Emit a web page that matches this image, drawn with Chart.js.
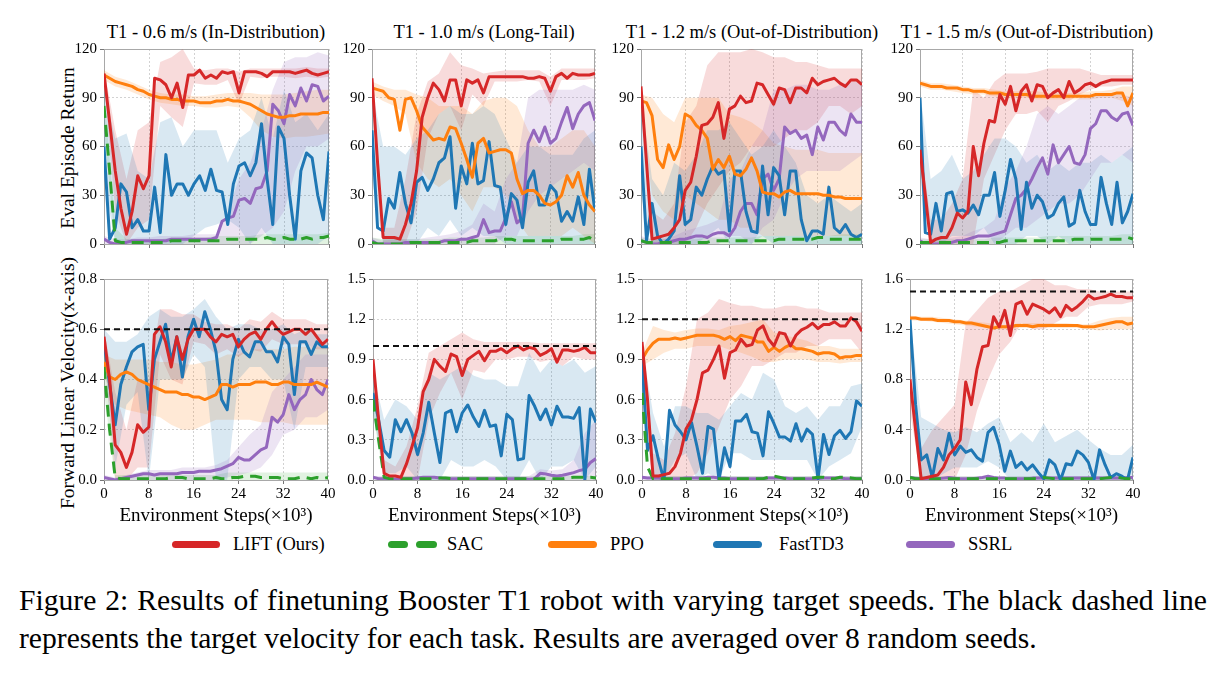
<!DOCTYPE html>
<html>
<head>
<meta charset="utf-8">
<script src="https://cdn.jsdelivr.net/npm/chart.js@4.4.1/dist/chart.umd.min.js"></script>
<style>
  body { margin: 0; background: #fff; width: 1219px; height: 676px; overflow: hidden; position: relative;
         font-family: 'Liberation Serif', 'Times New Roman', serif; color: #000; }
  canvas.chart { position: absolute; }
  .ptitle { position: absolute; top: 22px; font-size: 18.5px; line-height: 20px; white-space: nowrap; transform: translateX(-50%); }
  .ytitle { position: absolute; font-size: 19.5px; line-height: 20px; white-space: nowrap; transform: translate(-50%, -50%) rotate(-90deg); }
  .sw { position: absolute; top: 541px; height: 7px; border-radius: 4px; }
  .lt { position: absolute; top: 534px; font-size: 18.5px; line-height: 20px; white-space: nowrap; }
  .cap { position: absolute; left: 19px; width: 1188px; font-size: 29.6px; line-height: 38px; }
</style>
</head>
<body>

<div class="ptitle" style="left:216px">T1 - 0.6 m/s (In-Distribution)</div>
<div class="ptitle" style="left:484px">T1 - 1.0 m/s (Long-Tail)</div>
<div class="ptitle" style="left:752px">T1 - 1.2 m/s (Out-of-Distribution)</div>
<div class="ptitle" style="left:1027px">T1 - 1.5 m/s (Out-of-Distribution)</div>

<div class="ytitle" style="left:68px; top:148px">Eval Episode Return</div>
<div class="ytitle" style="left:68px; top:383px">Forward Linear Velocity(x-axis)</div>

<div class="sw" style="left:172px; width:48px; background:#d62728"></div>
<div class="lt" style="left:233px">LIFT (Ours)</div>
<div class="sw" style="left:388px; width:20px; background:#2ca02c"></div>
<div class="sw" style="left:416px; width:21px; background:#2ca02c"></div>
<div class="lt" style="left:447px">SAC</div>
<div class="sw" style="left:548px; width:49px; background:#ff7f0e"></div>
<div class="lt" style="left:610px">PPO</div>
<div class="sw" style="left:713px; width:49px; background:#1f77b4"></div>
<div class="lt" style="left:779px">FastTD3</div>
<div class="sw" style="left:906px; width:49px; background:#9467bd"></div>
<div class="lt" style="left:968px">SSRL</div>

<div class="cap" style="top:581px; text-align:justify; text-align-last:justify">Figure 2: Results of finetuning Booster T1 robot with varying target speeds. The black dashed line</div>
<div class="cap" style="top:619px">represents the target velocity for each task. Results are averaged over 8 random seeds.</div>

<script>
/* ── data: x positions (×10^3 env steps) ─────────────────── */
const steps = [0,1,2,3,4,5,6,7,8,9,10,11,12,13,14,15,16,17,18,19,20,21,22,23,24,25,26,27,28,29,30,31,32,33,34,35,36,37,38,39,40];
const bandSteps = [0,2,4,6,8,10,12,14,16,18,20,22,24,26,28,30,32,34,36,38,40];

const xTicks = [0, 8, 16, 24, 32, 40];
const yTicksReturn = [0, 30, 60, 90, 120];
const yTicksV06 = [0.0, 0.2, 0.4, 0.6, 0.8];
const yTicksV10 = [0.0, 0.3, 0.6, 0.9, 1.2, 1.5];
const yTicksV12 = [0.0, 0.3, 0.6, 0.9, 1.2, 1.5];
const yTicksV15 = [0.0, 0.4, 0.8, 1.2, 1.6];
const targetSpeeds = [0.6, 1.0, 1.2, 1.5];

/* ── eval return, 0.6 m/s ── */
const liftR1 = [105,75,45,22,6,20,42,34,42,102, 101,98,90,99,84,104,104,107,102,104, 102,106,105,106,93,106,106,106,105,103, 106,106,106,106,105,106,107,105,104,105, 106];
const liftR1Lo = [100,20,0,10,15,85,78,72,99,98, 98,101,86,103,102,103,103,102,103,102, 103];
const liftR1Hi = [108,70,40,70,75,112,115,120,108,107, 108,108,106,108,108,108,108,108,109,108, 108];
const ppoR1 = [104,102,100,99,98,97,95,94,92,91, 90,90,89,89,88,88,88,87,87,87, 88,88,89,88,88,87,86,84,82,80, 79,78,78,79,79,80,80,80,80,81, 81];
const ppoR1Lo = [101,97,95,92,89,87,86,85,85,84, 84,85,84,78,70,66,65,66,66,67, 68];
const ppoR1Hi = [107,103,101,98,95,93,92,92,91,91, 92,93,93,93,92,92,92,93,94,95, 95];
const td3R1 = [60,3,10,37,32,10,15,8,8,35, 7,55,30,37,37,30,37,42,33,46, 33,32,12,37,48,50,42,50,74,40, 12,72,65,30,3,45,56,53,30,15, 57];
const td3R1Lo = [40,0,0,0,0,0,0,0,5,10, 12,15,10,0,10,0,0,0,0,0, 5];
const td3R1Hi = [95,65,68,45,40,75,78,60,70,70, 70,50,65,70,90,65,95,75,80,70, 80];
const sacR1 = [85,45,2,1,1,1,1,1,1,1, 1,1,2,2,2,2,2,2,2,2, 2,2,3,3,3,3,3,3,3,4, 3,3,4,3,3,3,4,3,4,4, 5];
const sacR1Lo = [70,0,0,0,0,0,0,0,0,0, 0,0,0,0,0,0,0,0,0,0, 0];
const sacR1Hi = [95,10,3,3,3,3,4,4,4,4, 5,5,5,5,6,6,6,6,6,6, 7];
const ssrlR1 = [3,1,0,1,1,2,2,2,2,2, 2,2,3,3,3,3,3,3,3,3, 4,14,16,17,27,28,25,34,35,45, 86,82,74,92,85,96,88,98,97,88, 91];
const ssrlR1Lo = [0,0,0,0,0,0,0,0,0,0, 0,0,0,0,5,10,20,45,60,60, 65];
const ssrlR1Hi = [5,3,3,4,4,5,5,5,6,6, 6,20,40,50,70,95,112,115,115,118, 116];

/* ── eval return, 1.0 m/s ── */
const liftR2 = [102,50,4,4,4,3,12,25,45,78, 90,99,95,88,101,101,85,101,99,101, 93,103,103,103,103,103,103,103,102,102, 103,102,94,103,105,102,105,104,104,104, 105];
const liftR2Lo = [100,0,0,0,20,65,80,85,70,92, 85,100,100,100,101,100,85,101,101,101, 102];
const liftR2Hi = [104,10,10,40,80,100,105,118,110,108, 105,106,107,107,107,107,103,108,108,108, 108];
const ppoR2 = [96,95,94,90,89,70,89,90,82,72, 68,64,65,64,72,71,62,52,41,62, 65,56,57,58,58,56,40,31,33,33, 30,25,24,26,30,42,35,44,30,24, 20];
const ppoR2Lo = [92,88,85,80,50,40,35,40,30,20, 35,35,30,15,5,5,5,5,10,5, 0];
const ppoR2Hi = [100,97,95,95,92,90,85,85,85,80, 88,90,90,85,70,60,60,65,70,70, 60];
const td3R2 = [70,10,8,28,22,44,25,13,38,41, 33,40,50,53,66,22,48,37,62,37, 39,63,36,35,12,31,27,10,38,45, 24,24,36,32,14,20,14,29,12,46, 20];
const td3R2Lo = [40,0,0,0,0,10,5,15,5,10, 5,5,0,0,0,0,0,0,0,0, 0];
const td3R2Hi = [95,60,60,55,65,70,80,85,80,80, 85,80,65,50,60,60,55,55,55,65, 70];
const sacR2 = [1,0,0,0,0,0,0,1,1,1, 1,1,1,1,1,1,1,1,2,2, 2,2,2,3,3,3,2,2,2,2, 2,2,2,2,3,3,3,3,3,4, 2];
const sacR2Lo = [0,0,0,0,0,0,0,0,0,0, 0,0,0,0,0,0,0,0,0,0, 0];
const sacR2Hi = [4,3,3,3,3,3,3,4,4,4, 4,5,5,5,5,5,5,5,5,6, 6];
const ssrlR2 = [2,0,0,0,0,0,1,1,1,1, 1,1,1,2,2,2,3,3,4,5, 15,7,8,8,16,26,13,16,62,70, 63,72,62,65,75,84,71,80,85,87, 76];
const ssrlR2Lo = [0,0,0,0,0,0,0,0,0,0, 0,0,5,5,20,30,35,40,45,50, 45];
const ssrlR2Hi = [4,2,3,3,3,4,5,6,8,12, 25,20,40,50,90,95,95,95,95,98, 95];

/* ── eval return, 1.2 m/s ── */
const liftR3 = [97,50,3,4,5,6,10,15,33,38, 54,73,74,78,87,65,83,85,91,87, 88,99,98,92,86,96,95,87,96,96, 93,102,98,100,101,102,99,97,101,101, 98];
const liftR3Lo = [92,0,0,0,0,10,25,35,45,50, 60,60,60,65,70,70,75,85,85,80, 85];
const liftR3Hi = [100,20,15,25,75,85,110,118,118,118, 120,118,115,115,112,112,110,108,108,108, 108];
const ppoR3 = [88,87,79,52,47,61,52,60,80,78, 73,70,65,46,52,47,54,43,42,46, 53,45,32,31,31,29,32,33,31,31, 31,31,31,30,30,29,29,28,28,28, 28];
const ppoR3Lo = [82,30,20,15,30,25,20,15,15,10, 10,5,5,5,5,5,5,5,5,5, 5];
const ppoR3Hi = [92,90,80,75,90,90,90,90,80,78, 75,70,62,60,58,58,58,56,56,56, 56];
const td3R3 = [60,2,25,5,0,3,8,42,12,15, 35,30,40,48,43,45,8,45,45,20, 8,7,48,18,47,42,18,45,45,15, 2,8,8,6,35,10,7,12,6,4, 6];
const td3R3Lo = [30,0,0,0,0,0,5,10,0,0, 0,5,0,0,0,0,0,0,0,0, 0];
const td3R3Hi = [90,40,30,50,45,55,70,70,75,65, 55,60,70,60,50,30,25,30,25,20, 25];
const sacR3 = [2,1,1,1,1,1,1,1,1,1, 1,1,1,2,2,2,2,2,2,2, 2,2,2,2,2,3,3,3,3,3, 3,3,4,4,3,3,3,3,3,3, 3];
const sacR3Lo = [0,0,0,0,0,0,0,0,0,0, 0,0,0,0,0,0,0,0,0,0, 0];
const sacR3Hi = [4,3,3,3,3,3,4,4,4,4, 4,5,5,5,5,5,5,5,6,6, 6];
const ssrlR3 = [2,1,0,0,1,1,2,3,3,4, 5,5,4,6,7,7,5,10,20,25, 25,18,40,43,33,40,72,68,70,65, 67,55,72,64,75,75,70,67,80,75, 75];
const ssrlR3Lo = [0,0,0,0,0,0,0,0,5,5, 0,10,15,30,40,45,45,45,45,50, 55];
const ssrlR3Hi = [5,3,3,5,8,10,12,15,40,45, 60,70,95,95,98,98,95,95,98,100, 100];

/* ── eval return, 1.5 m/s ── */
const liftR4 = [58,30,1,3,4,4,10,19,16,20, 60,42,62,76,75,92,86,97,82,94, 98,88,98,97,90,93,95,90,100,93, 95,98,99,97,99,100,101,101,101,101, 101];
const liftR4Lo = [50,0,0,0,0,0,40,55,70,80, 80,82,75,85,88,92,95,97,97,98, 98];
const liftR4Hi = [65,15,15,25,40,95,90,100,105,105, 105,106,108,108,108,108,106,104,104,104, 104];
const ppoR4 = [99,98,97,97,97,96,96,96,95,95, 94,94,94,93,93,93,92,92,92,92, 92,91,91,91,91,91,91,91,91,91, 91,91,91,92,92,92,92,93,93,85, 93];
const ppoR4Lo = [97,95,95,94,93,92,92,91,90,90, 90,89,89,89,89,89,89,90,90,88, 85];
const ppoR4Hi = [101,99,99,98,97,96,96,95,94,94, 94,94,93,93,93,93,94,94,95,97, 97];
const td3R4 = [90,7,6,25,8,31,32,20,21,19, 24,18,30,30,44,17,33,52,40,9, 38,22,30,26,16,18,25,29,11,13, 33,20,12,12,41,25,12,38,13,20, 31];
const td3R4Lo = [40,0,0,5,5,5,10,0,0,0, 5,5,0,5,0,0,0,0,0,0, 0];
const td3R4Hi = [95,40,45,55,40,45,55,65,65,60, 50,55,45,50,45,50,50,55,50,55, 60];
const sacR4 = [1,1,1,1,1,1,1,1,1,1, 1,1,1,1,1,1,2,2,2,2, 2,2,2,2,2,2,2,2,2,3, 3,3,3,3,3,3,3,3,3,4, 3];
const sacR4Lo = [0,0,0,0,0,0,0,0,0,0, 0,0,0,0,0,0,0,0,0,0, 0];
const sacR4Hi = [3,3,3,3,3,3,3,4,4,4, 4,4,5,5,5,5,5,5,5,6, 6];
const ssrlR4 = [2,0,0,0,0,1,1,2,2,3, 4,5,5,5,6,7,8,18,28,30, 34,40,47,53,43,61,50,55,60,50, 49,55,71,74,82,82,78,76,80,81, 73];
const ssrlR4Lo = [0,0,0,0,0,0,0,0,5,10, 10,15,20,25,25,30,40,50,50,55, 50];
const ssrlR4Hi = [4,3,3,4,5,8,10,15,35,45, 60,80,85,80,85,90,90,92,92,92, 90];

/* ── forward velocity, 0.6 m/s ── */
const liftV1 = [.57,.40,.14,.11,.05,.11,.22,.19,.21,.58, .61,.55,.45,.57,.48,.56,.60,.60,.60,.57, .55,.58,.57,.58,.53,.56,.58,.59,.56,.60, .63,.60,.58,.59,.60,.60,.58,.60,.57,.54, .56];
const liftV1Lo = [.52,0,0,.05,.05,.50,.40,.38,.55,.54, .50,.52,.49,.52,.51,.56,.54,.54,.54,.52, .52];
const liftV1Hi = [.60,.35,.20,.40,.40,.68,.68,.66,.66,.63, .62,.62,.60,.64,.63,.67,.64,.64,.64,.62, .62];
const ppoV1 = [.47,.41,.40,.42,.43,.42,.40,.39,.38,.37, .36,.35,.35,.35,.34,.34,.33,.33,.32,.33, .34,.38,.38,.37,.38,.38,.38,.39,.39,.39, .38,.38,.39,.39,.38,.38,.38,.38,.39,.38, .37];
const ppoV1Lo = [.42,.30,.28,.27,.26,.25,.22,.20,.20,.22, .24,.24,.24,.24,.23,.23,.23,.22,.22,.22, .22];
const ppoV1Hi = [.50,.48,.48,.48,.48,.47,.47,.46,.46,.47, .48,.50,.50,.52,.52,.52,.52,.53,.53,.53, .53];
const td3V1 = [.55,.38,.22,.38,.45,.51,.53,.54,.28,.48, .55,.62,.47,.57,.41,.57,.64,.57,.67,.60, .51,.32,.28,.48,.56,.51,.49,.55,.55,.51, .51,.47,.57,.54,.34,.55,.55,.50,.55,.53, .53];
const td3V1Lo = [.50,.05,.30,.35,0,.40,.40,.40,.50,.45, 0,0,.40,.45,.45,.40,.40,.20,.45,.45, .45];
const td3V1Hi = [.60,.55,.55,.58,.65,.68,.65,.65,.68,.72, .65,.60,.62,.62,.60,.60,.62,.58,.60,.58, .58];
const sacV1 = [.45,.20,.01,.005,.005,.005,.005,.005,.005,.005, .005,.005,.01,.01,.01,.005,.005,.005,.005,.005, .01,.005,.005,.01,.01,.015,.015,.015,.01,.01, .01,.01,.005,.005,.005,.01,.01,.005,.01,.005, .01];
const sacV1Lo = [.35,0,0,0,0,0,0,0,0,0, 0,0,0,0,0,0,0,0,0,0, 0];
const sacV1Hi = [.55,.02,.02,.02,.02,.02,.02,.02,.02,.02, .02,.03,.03,.03,.03,.03,.03,.03,.03,.03, .03];
const ssrlV1 = [.01,.005,0,.005,.01,.015,.02,.025,.025,.02, .025,.025,.025,.025,.03,.03,.03,.035,.035,.035, .04,.045,.055,.065,.09,.08,.08,.10,.12,.13, .25,.23,.26,.34,.28,.32,.34,.40,.36,.34, .40];
const ssrlV1Lo = [0,0,0,0,0,0,0,0,0,0, 0,.01,.02,.03,.05,.10,.18,.20,.25,.25, .28];
const ssrlV1Hi = [.02,.01,.02,.03,.04,.04,.04,.05,.05,.05, .06,.08,.13,.18,.22,.35,.40,.45,.50,.50, .50];

/* ── forward velocity, 1.0 m/s (no PPO curve) ── */
const liftV2 = [.90,.45,.05,.03,.03,.02,.12,.25,.39,.66, .75,.90,.85,.81,.94,.92,.78,.90,.93,.96, .89,.96,.96,.98,.95,.98,1.00,.97,.99,.98, .93,.95,.98,.88,.97,.97,.96,.97,.99,.95, .95];
const liftV2Lo = [.85,0,0,0,0,.45,.65,.80,.60,.82, .80,.90,.90,.92,.92,.88,.90,.85,.92,.90, .90];
const liftV2Hi = [.95,.15,.10,.25,.55,.95,1.00,1.05,1.10,1.05, 1.03,1.03,1.03,1.03,1.03,1.02,1.02,1.02,1.02,1.02, 1.02];
const td3V2 = [.65,.45,.22,.17,.45,.36,.45,.35,.19,.35, .58,.35,.13,.50,.52,.36,.50,.56,.47,.40, .52,.40,.41,.18,.49,.45,.15,.16,.63,.55, .45,.53,.41,.55,.47,.47,.46,.54,0,.53, .43];
const td3V2Lo = [.50,.05,.05,.10,0,0,0,.15,.10,.10, .15,.10,0,0,.15,0,.10,.10,.15,0, .10];
const td3V2Hi = [.80,.45,.60,.55,.45,.80,.75,.80,.85,.78, .75,.75,.70,.70,.95,.80,.90,.85,.90,.80, .85];
const sacV2 = [.60,.30,.02,.01,.01,.01,.01,.01,.01,.01, .01,.01,.015,.015,.01,.01,.01,.01,.01,.01, .01,.01,.01,.01,.01,.01,.01,.01,.01,.01, .01,.01,.01,.01,.01,.015,.02,.02,.02,.02, .015];
const sacV2Lo = [.50,0,0,0,0,0,0,0,0,0, 0,0,0,0,0,0,0,0,0,0, 0];
const sacV2Hi = [.70,.03,.03,.03,.03,.03,.03,.03,.03,.03, .03,.03,.03,.03,.03,.03,.03,.03,.03,.03, .03];
const ssrlV2 = [.02,.01,.01,.005,.005,.005,.01,.01,.015,.02, .02,.02,.015,.01,.01,.01,.01,.01,.01,.01, .01,.01,.01,.005,.01,.01,.01,.01,.005,.01, .05,.045,.035,.03,.035,.045,.055,.07,.08,.13, .16];
const ssrlV2Lo = [0,0,0,0,0,0,0,0,0,0, 0,0,0,0,0,0,0,0,0,0, 0];
const ssrlV2Hi = [.03,.03,.03,.03,.03,.03,.03,.03,.03,.03, .03,.03,.03,.03,.03,.08,.07,.08,.15,.35, .45];

/* ── forward velocity, 1.2 m/s ── */
const liftV3 = [1.03,.60,.03,.03,.04,.05,.10,.20,.38,.45, .60,.80,.82,.90,1.00,.76,.95,.97,1.05,1.00, 1.01,1.12,1.15,1.05,1.00,1.10,1.09,1.00,1.08,1.12, 1.14,1.17,1.13,1.16,1.16,1.18,1.15,1.15,1.21,1.18, 1.11];
const liftV3Lo = [1.00,0,0,0,0,.05,.20,.40,.60,.70, .85,.85,.90,.95,.95,1.00,1.00,1.05,1.05,1.05, .95];
const liftV3Hi = [1.06,.20,.15,.35,.70,1.20,1.25,1.35,1.32,1.30, 1.30,1.28,1.28,1.30,1.30,1.28,1.28,1.25,1.25,1.25, 1.25];
const ppoV3 = [.90,.97,1.02,1.05,1.05,1.05,1.06,1.05,1.06,1.07, 1.08,1.08,1.08,1.08,1.07,1.05,1.07,1.04,1.08,1.07, 1.06,1.03,1.03,.96,.99,.96,.99,1.01,.98,.98, .97,.96,.94,.95,.95,.94,.91,.92,.92,.93, .93];
const ppoV3Lo = [.85,.90,.95,.98,.98,1.00,1.00,1.00,.97,.95, .92,.88,.88,.90,.90,.90,.88,.88,.87,.88, .88];
const ppoV3Hi = [.95,1.15,1.12,1.10,1.12,1.13,1.13,1.12,1.15,1.16, 1.18,1.20,1.10,1.08,1.06,1.04,1.00,1.00,.98,.98, .98];
const td3V3 = [.90,.22,.33,.15,0,.52,.41,.36,.30,.43, .25,.05,.40,.38,0,.24,.10,.44,.44,.49, .36,.35,.18,.51,.42,.32,.32,.29,.42,.29, .38,.34,.01,.34,.19,.33,.37,.31,.36,.59, .55];
const td3V3Lo = [.60,0,0,.15,.20,0,.05,0,.20,.20, .15,.15,.15,.15,.15,.15,0,.10,.15,.20, .40];
const td3V3Hi = [1.00,.50,.25,.55,.55,.50,.50,.45,.55,.65, .60,.80,.75,.55,.50,.55,.45,.55,.55,.70, .72];
const sacV3 = [.65,.10,.01,.01,.01,.01,.01,.01,.01,.01, .01,.01,.01,.01,.01,.01,.01,.01,.01,.01, .01,.01,.01,.02,.03,.02,.01,.01,.01,.01, .01,.015,.02,.02,.01,.01,.02,.02,.015,.01, .01];
const sacV3Lo = [.55,0,0,0,0,0,0,0,0,0, 0,0,0,0,0,0,0,0,0,0, 0];
const sacV3Hi = [.75,.03,.03,.03,.03,.03,.03,.03,.03,.03, .03,.03,.03,.03,.03,.03,.03,.03,.03,.03, .03];
const ssrlV3 = [.02,.015,.015,.015,.01,.01,.01,.01,.015,.015, .015,.015,.02,.02,.015,.015,.01,.01,.01,.01, .01,.01,.01,.015,.015,.015,.015,.01,.01,.01, .01,.01,.01,.015,.015,.015,.015,.01,.01,.01, .01];
const ssrlV3Lo = [0,0,0,0,0,0,0,0,0,0, 0,0,0,0,0,0,0,0,0,0, 0];
const ssrlV3Hi = [.03,.03,.03,.03,.03,.03,.03,.03,.03,.03, .03,.03,.03,.03,.03,.03,.03,.03,.03,.03, .03];

/* ── forward velocity, 1.5 m/s ── */
const liftV4 = [.80,.40,.01,.02,.03,.04,.10,.20,.25,.32, .78,.60,.88,1.06,1.07,1.30,1.22,1.35,1.15,1.40, 1.42,1.32,1.40,1.38,1.36,1.33,1.37,1.30,1.39,1.35, 1.38,1.42,1.47,1.44,1.45,1.46,1.48,1.46,1.46,1.45, 1.45];
const liftV4Lo = [.55,0,0,0,0,.20,.55,.80,1.00,1.10, 1.25,1.20,1.20,1.25,1.30,1.30,1.38,1.40,1.40,1.40, 1.42];
const liftV4Hi = [.95,.25,.40,.50,.60,1.25,1.35,1.45,1.50,1.50, 1.55,1.60,1.60,1.55,1.55,1.52,1.52,1.50,1.50,1.50, 1.50];
const ppoV4 = [1.29,1.29,1.28,1.28,1.28,1.27,1.27,1.27,1.26,1.26, 1.25,1.25,1.24,1.23,1.22,1.21,1.22,1.22,1.22,1.23, 1.23,1.23,1.22,1.23,1.23,1.23,1.23,1.23,1.23,1.23, 1.23,1.22,1.22,1.22,1.23,1.24,1.25,1.26,1.26,1.24, 1.25];
const ppoV4Lo = [1.27,1.27,1.26,1.25,1.24,1.23,1.22,1.21,1.20,1.20, 1.21,1.21,1.21,1.21,1.21,1.21,1.20,1.19,1.20,1.20, 1.20];
const ppoV4Hi = [1.31,1.30,1.30,1.29,1.28,1.27,1.26,1.25,1.23,1.24, 1.25,1.25,1.25,1.25,1.25,1.24,1.24,1.27,1.29,1.30, 1.30];
const td3V4 = [1.28,.60,.16,.20,.02,.25,.16,.37,.20,.27, .22,.24,.18,.15,.38,.42,.28,.07,.23,.10, .14,.08,.12,.06,.01,.16,.12,0,.13,.12, .23,.20,.14,0,.24,.12,.02,.05,.03,0, .18];
const td3V4Lo = [1.20,0,0,.05,.10,.10,.10,.15,.10,0, 0,0,0,0,0,0,0,0,0,0, 0];
const td3V4Hi = [1.30,.50,.45,.40,.38,.42,.38,.45,.50,.30, .38,.30,.45,.30,.35,.40,.32,.25,.20,.20, .28];
const sacV4 = [.02,.01,.01,.01,.01,.01,.01,.01,.01,.01, .01,.01,.01,.01,.01,.01,.01,.01,.01,.01, .01,.01,.01,.015,.02,.015,.01,.01,.01,.01, .01,.01,.01,.01,.01,.015,.02,.025,.015,.01, .01];
const sacV4Lo = [0,0,0,0,0,0,0,0,0,0, 0,0,0,0,0,0,0,0,0,0, 0];
const sacV4Hi = [.03,.03,.03,.03,.03,.03,.03,.03,.03,.03, .03,.03,.03,.03,.03,.03,.03,.03,.03,.03, .03];
const ssrlV4 = [.02,.015,.01,.01,.01,.01,.015,.02,.015,.01, .01,.01,.015,.02,.03,.02,.015,.015,.01,.01, .01,.01,.015,.015,.015,.015,.015,.015,.015,.015, .015,.015,.015,.015,.015,.015,.015,.015,.015,.02, .02];
const ssrlV4Lo = [0,0,0,0,0,0,0,0,0,0, 0,0,0,0,0,0,0,0,0,0, 0];
const ssrlV4Hi = [.03,.03,.03,.03,.03,.03,.03,.03,.03,.03, .03,.03,.03,.03,.03,.03,.03,.03,.03,.03, .03];

/* ── styling ─────────────────────────────────────────────── */
const FONT = "'Liberation Serif', 'Times New Roman', serif";
Chart.defaults.font.family = FONT;
Chart.defaults.color = '#000';

// z: lower = drawn on top
const STYLE = {
  lift: { color: '#d62728', band: 'rgba(214,39,40,0.17)',  z: 1 },
  sac:  { color: '#2ca02c', band: 'rgba(44,160,44,0.14)',  z: 2, dash: [12, 7] },
  ppo:  { color: '#ff7f0e', band: 'rgba(255,127,14,0.17)', z: 3 },
  td3:  { color: '#1f77b4', band: 'rgba(31,119,180,0.17)', z: 4 },
  ssrl: { color: '#9467bd', band: 'rgba(148,103,189,0.18)', z: 5 }
};
const DRAW_ORDER = ['ssrl', 'td3', 'ppo', 'sac', 'lift'];

const YW = 40, PAD = 12;

const PANELS = [
  { rect: [104, 49, 329, 250], yMax: 120, yTicks: yTicksReturn, digits: 0, bottom: false, target: null,
    series: { lift: [liftR1, liftR1Lo, liftR1Hi], sac: [sacR1, sacR1Lo, sacR1Hi], ppo: [ppoR1, ppoR1Lo, ppoR1Hi], td3: [td3R1, td3R1Lo, td3R1Hi], ssrl: [ssrlR1, ssrlR1Lo, ssrlR1Hi] } },
  { rect: [372, 49, 595, 250], yMax: 120, yTicks: yTicksReturn, digits: 0, bottom: false, target: null,
    series: { lift: [liftR2, liftR2Lo, liftR2Hi], sac: [sacR2, sacR2Lo, sacR2Hi], ppo: [ppoR2, ppoR2Lo, ppoR2Hi], td3: [td3R2, td3R2Lo, td3R2Hi], ssrl: [ssrlR2, ssrlR2Lo, ssrlR2Hi] } },
  { rect: [641, 49, 862, 250], yMax: 120, yTicks: yTicksReturn, digits: 0, bottom: false, target: null,
    series: { lift: [liftR3, liftR3Lo, liftR3Hi], sac: [sacR3, sacR3Lo, sacR3Hi], ppo: [ppoR3, ppoR3Lo, ppoR3Hi], td3: [td3R3, td3R3Lo, td3R3Hi], ssrl: [ssrlR3, ssrlR3Lo, ssrlR3Hi] } },
  { rect: [920, 49, 1133, 250], yMax: 120, yTicks: yTicksReturn, digits: 0, bottom: false, target: null,
    series: { lift: [liftR4, liftR4Lo, liftR4Hi], sac: [sacR4, sacR4Lo, sacR4Hi], ppo: [ppoR4, ppoR4Lo, ppoR4Hi], td3: [td3R4, td3R4Lo, td3R4Hi], ssrl: [ssrlR4, ssrlR4Lo, ssrlR4Hi] } },
  { rect: [104, 279, 328, 480], yMax: 0.8, yTicks: yTicksV06, digits: 1, bottom: true, target: targetSpeeds[0],
    series: { lift: [liftV1, liftV1Lo, liftV1Hi], sac: [sacV1, sacV1Lo, sacV1Hi], ppo: [ppoV1, ppoV1Lo, ppoV1Hi], td3: [td3V1, td3V1Lo, td3V1Hi], ssrl: [ssrlV1, ssrlV1Lo, ssrlV1Hi] } },
  { rect: [373, 279, 596, 480], yMax: 1.5, yTicks: yTicksV10, digits: 1, bottom: true, target: targetSpeeds[1],
    series: { lift: [liftV2, liftV2Lo, liftV2Hi], sac: [sacV2, sacV2Lo, sacV2Hi], td3: [td3V2, td3V2Lo, td3V2Hi], ssrl: [ssrlV2, ssrlV2Lo, ssrlV2Hi] } },
  { rect: [642, 279, 862, 480], yMax: 1.5, yTicks: yTicksV12, digits: 1, bottom: true, target: targetSpeeds[2],
    series: { lift: [liftV3, liftV3Lo, liftV3Hi], sac: [sacV3, sacV3Lo, sacV3Hi], ppo: [ppoV3, ppoV3Lo, ppoV3Hi], td3: [td3V3, td3V3Lo, td3V3Hi], ssrl: [ssrlV3, ssrlV3Lo, ssrlV3Hi] } },
  { rect: [910, 279, 1133, 480], yMax: 1.6, yTicks: yTicksV15, digits: 1, bottom: true, target: targetSpeeds[3],
    series: { lift: [liftV4, liftV4Lo, liftV4Hi], sac: [sacV4, sacV4Lo, sacV4Hi], ppo: [ppoV4, ppoV4Lo, ppoV4Hi], td3: [td3V4, td3V4Lo, td3V4Hi], ssrl: [ssrlV4, ssrlV4Lo, ssrlV4Hi] } }
];

/* grey frame round the plot area */
const framePlugin = {
  id: 'frame',
  beforeDatasetsDraw(chart) {
    const { ctx, chartArea: a } = chart;
    ctx.save();
    ctx.strokeStyle = '#a8a8a8';
    ctx.lineWidth = 1;
    ctx.strokeRect(a.left + 0.5, a.top + 0.5, a.right - a.left - 1, a.bottom - a.top);
    ctx.restore();
  }
};

const pts = (xs, ys) => ys.map((y, i) => ({ x: xs[i], y }));

function buildPanel(p) {
  const [l, t, r, b] = p.rect;
  const xh = p.bottom ? 51 : 6;
  const cv = document.createElement('canvas');
  cv.className = 'chart';
  cv.width = r - l + YW + PAD;
  cv.height = b - t + PAD + xh;
  cv.style.left = (l - YW) + 'px';
  cv.style.top = (t - PAD) + 'px';
  document.body.appendChild(cv);

  const datasets = [];
  DRAW_ORDER.forEach(key => {
    const s = p.series[key];
    if (!s) return;
    const st = STYLE[key];
    datasets.push({ data: pts(bandSteps, s[1]), borderWidth: 0, pointRadius: 0, fill: false, order: 10 });
    datasets.push({ data: pts(bandSteps, s[2]), borderWidth: 0, pointRadius: 0, fill: '-1', backgroundColor: st.band, order: 10 });
  });
  DRAW_ORDER.forEach(key => {
    const s = p.series[key];
    if (!s) return;
    const st = STYLE[key];
    datasets.push({
      data: pts(steps, s[0]), borderColor: st.color, borderWidth: 3, pointRadius: 0, fill: false,
      borderDash: st.dash || [], borderJoinStyle: 'round', order: st.z
    });
  });
  if (p.target !== null) {
    datasets.push({
      data: [{ x: 0, y: p.target }, { x: 40, y: p.target }],
      borderColor: '#111', borderWidth: 2, borderDash: [6, 4], pointRadius: 0, fill: false, order: 0
    });
  }

  new Chart(cv, {
    type: 'line',
    data: { datasets },
    options: {
      responsive: false, animation: false,
      layout: { padding: { top: PAD, right: PAD, left: 0, bottom: 0 } },
      plugins: { legend: { display: false }, tooltip: { enabled: false } },
      scales: {
        x: {
          type: 'linear', min: 0, max: 40,
          afterBuildTicks: s => { s.ticks = xTicks.map(v => ({ value: v })); },
          afterFit: s => { s.height = xh; },
          grid: { color: '#d2d2d2', tickColor: '#777', tickLength: 4 },
          border: { display: false, dash: [2, 2] },
          ticks: { display: p.bottom, autoSkip: false, maxRotation: 0, padding: 1, font: { size: 15 } },
          title: { display: p.bottom, text: 'Environment Steps(×10³)', font: { size: 19 }, padding: { top: 0, bottom: 4 } }
        },
        y: {
          min: 0, max: p.yMax,
          afterBuildTicks: s => { s.ticks = p.yTicks.map(v => ({ value: v })); },
          afterFit: s => { s.width = YW; },
          grid: { color: '#d2d2d2', tickColor: '#777', tickLength: 4 },
          border: { display: false, dash: [2, 2] },
          ticks: { autoSkip: false, padding: 3, font: { size: 15 }, callback: v => Number(v).toFixed(p.digits) }
        }
      }
    },
    plugins: [framePlugin]
  });
}

PANELS.forEach(buildPanel);
</script>
</body>
</html>
